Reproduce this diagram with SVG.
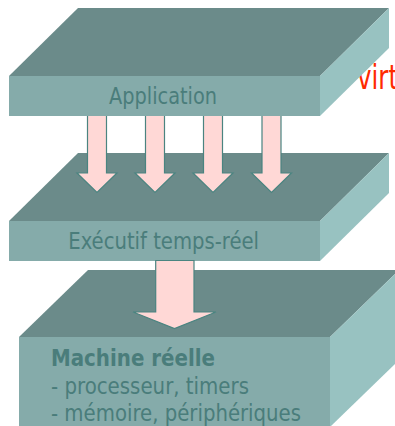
<svg xmlns="http://www.w3.org/2000/svg" width="395" height="426" viewBox="0 0 395 426">
  <style>
    .top { fill: #6b8b8a; }
    .front { fill: #85abaa; }
    .side { fill: #98c2c1; }
    .label { font-family: "DejaVu Sans Condensed", "DejaVu Sans", sans-serif; font-size: 23px; fill: #4a7d7b; }
    .bold { font-weight: bold; }
    .arrow { fill: #ffd8d6; stroke: #4a8480; stroke-width: 1.2; }
    .red { font-family: "DejaVu Sans Condensed", "DejaVu Sans", sans-serif; font-size: 34px; fill: #ff2a00; }
  </style>

  <rect width="395" height="426" fill="#ffffff"/>

  <!-- label partly hidden behind the top slab -->
  <text class="red" x="357" y="88.5" textLength="41" lengthAdjust="spacingAndGlyphs">virt</text>

  <!-- bottom layer: real machine -->
  <g id="machine">
    <polygon class="top" points="88,270 399,270 330,337 19,337"/>
    <polygon class="side" points="330,337 399,270 399,360 330,427"/>
    <rect class="front" x="19" y="337" width="311" height="90"/>
    <text class="label bold" x="51" y="366" textLength="164" lengthAdjust="spacingAndGlyphs">Machine réelle</text>
    <text class="label" x="51" y="394.3" textLength="198" lengthAdjust="spacingAndGlyphs">- processeur, timers</text>
    <text class="label" x="51" y="421" textLength="250" lengthAdjust="spacingAndGlyphs">- mémoire, périphériques</text>
  </g>

  <!-- middle layer: real-time executive -->
  <g id="executif">
    <polygon class="top" points="78,153 389,153 320,221 9,221"/>
    <polygon class="side" points="320,221 389,153 389,193 320,261"/>
    <rect class="front" x="9" y="221" width="311" height="40"/>
    <text class="label" x="68.3" y="249.3" textLength="190.7" lengthAdjust="spacingAndGlyphs">Exécutif temps-réel</text>
  </g>

  <!-- arrows between layers -->
  <g id="connectors">
    <polygon class="arrow" points="87.5,115.5 106.5,115.5 106.5,173 117,173 97,192.5 77,173 87.5,173"/>
    <polygon class="arrow" points="145.5,115.5 164.5,115.5 164.5,173 175,173 155,192.5 135,173 145.5,173"/>
    <polygon class="arrow" points="203.5,115.5 222.5,115.5 222.5,173 233,173 213,192.5 193,173 203.5,173"/>
    <polygon class="arrow" points="262,115.5 281,115.5 281,173 291.5,173 271.5,192.5 251.5,173 262,173"/>
    <polygon class="arrow" points="155.7,260.5 194,260.5 194,312 216,312 174.5,328.5 133,312 155.7,312"/>
  </g>

  <!-- top layer: application -->
  <g id="application">
    <polygon class="top" points="78,8 389,8 320,76 9,76"/>
    <polygon class="side" points="320,76 389,8 389,48 320,116"/>
    <rect class="front" x="9" y="76" width="311" height="40"/>
    <text class="label" x="109" y="104.3" textLength="108" lengthAdjust="spacingAndGlyphs">Application</text>
  </g>
</svg>
